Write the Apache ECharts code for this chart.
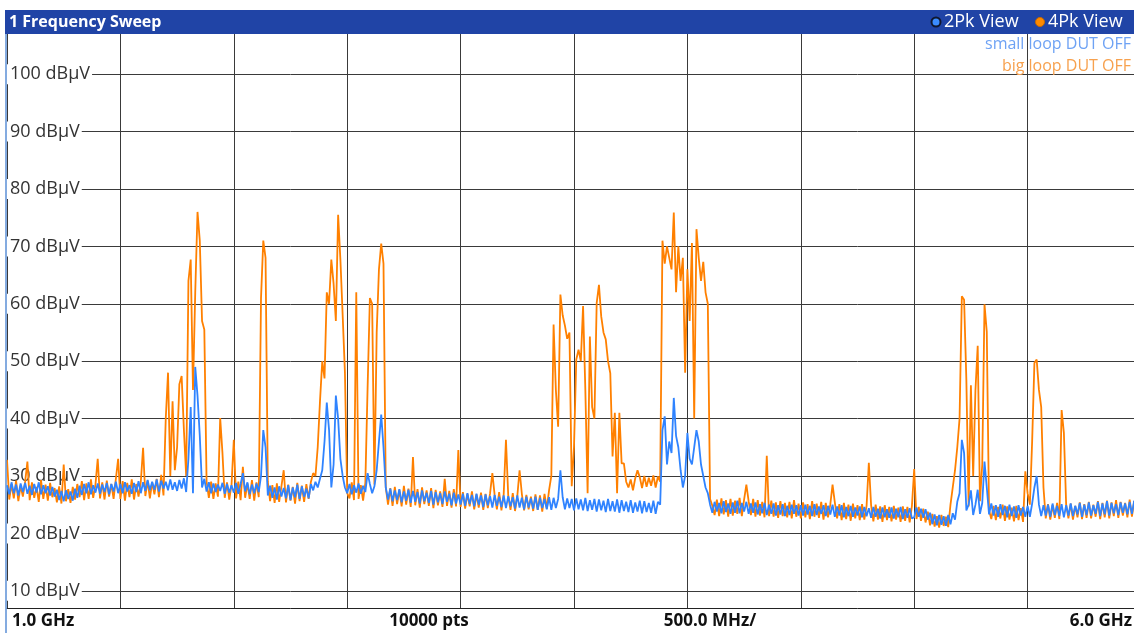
<!DOCTYPE html>
<html><head><meta charset="utf-8">
<script src="https://cdn.jsdelivr.net/npm/echarts@6/dist/echarts.min.js"></script>
<style>html,body{margin:0;padding:0;overflow:hidden;background:#fff;width:1134px;height:633px}#c{width:1142px;height:633px}</style>
</head><body><div id="c"></div><script>
// Sweep: 1.0 GHz .. 6.0 GHz, values read every 10 MHz (dBµV)
const sweepStartMHz = 1000, sweepStepMHz = 10, sweepStopMHz = 6000;
const yTicks = [10, 20, 30, 40, 50, 60, 70, 80, 90, 100];
const bottomLabels = ['1.0 GHz', '10000 pts', '500.0 MHz/', '6.0 GHz'];

// small loop DUT OFF (blue), 500 MHz per array
const blue1000 = [28.4,26.8,28.9,27.0,28.5,26.6,28.7,27.2,28.8,26.9, 28.3,26.7,28.6,27.1,28.9,26.8,28.4,27.0,28.2,26.6, 28.1,26.4,27.6,25.8,27.4,25.6,27.5,26.0,27.3,25.7, 27.8,26.2,28.3,26.7,28.6,27.0,28.9,26.8,28.4,27.1, 28.7,26.9,28.5,27.2,28.8,26.8,28.6,27.3,29.0,27.0];
const blue1500 = [28.6,27.0,28.9,27.3,28.4,26.9,28.8,27.2,29.1,27.0, 28.9,27.4,29.3,27.5,29.0,27.6,29.4,27.3,29.2,27.8, 29.0,27.5,29.4,27.6,28.9,27.4,29.3,27.8,29.6,27.2, 33.0,42.0,27.0,49.0,44.0,37.0,28.0,29.5,27.3,28.9, 27.0,28.7,27.2,28.5,27.4,28.8,26.9,28.6,27.1,28.4];
const blue2000 = [27.1,28.8,26.9,28.6,30.5,27.3,28.9,26.8,28.5,27.0, 28.7,27.2,30.0,38.0,35.0,26.6,28.3,26.2,28.0,25.9, 28.2,26.4,27.9,26.1,28.4,25.8,28.0,26.3,28.5,26.0, 28.2,26.4,27.8,26.1,28.6,27.5,29.0,28.0,29.5,31.0, 36.0,42.8,38.0,28.0,32.0,44.0,40.0,33.0,30.0,28.0];
const blue2500 = [27.0,28.6,26.8,28.4,27.1,28.7,26.9,28.3,27.2,30.5, 28.6,27.0,28.2,31.0,36.0,40.7,35.0,28.0,25.9,27.8, 25.6,27.5,25.8,27.7,25.4,27.3,25.7,27.6,25.3,27.4, 25.5,27.2,25.2,27.5,25.6,27.1,25.3,27.4,25.0,27.2, 25.4,27.0,25.1,27.3,25.5,26.9,24.9,27.1,25.2,26.8];
const blue3000 = [25.0,26.9,24.8,27.0,25.1,26.7,24.7,26.9,25.0,26.6, 24.6,26.8,24.9,26.5,24.5,26.7,24.8,26.4,24.6,26.6, 24.4,26.5,24.7,26.3,24.3,26.6,24.5,26.2,24.2,26.4, 24.5,26.1,24.3,26.4,24.1,26.2,24.4,26.0,24.2,26.3, 24.1,26.2,24.4,26.0,31.0,26.3,24.2,26.1,24.4,26.0];
const blue3500 = [24.0,26.1,24.2,25.9,24.0,26.2,23.9,25.8,24.1,26.0, 23.8,25.9,24.0,25.7,23.7,26.0,23.9,25.6,23.8,25.9, 23.6,25.8,23.9,25.5,23.7,25.8,23.6,25.4,23.8,25.7, 23.5,25.6,23.7,25.3,23.6,25.7,23.4,25.5,25.0,38.0, 40.4,32.0,36.0,34.0,43.6,37.0,35.0,31.0,28.0,30.0];
const blue4000 = [37.5,33.0,32.0,35.0,38.0,36.0,32.0,30.0,28.0,27.0, 25.0,23.6,25.5,23.8,25.3,23.5,25.6,23.7,25.2,23.4, 25.4,23.6,25.7,23.5,25.3,23.8,25.5,23.4,25.2,23.6, 25.4,23.3,25.1,23.5,25.3,23.2,25.0,23.4,25.2,23.1, 24.9,23.3,25.1,23.0,24.8,23.2,25.0,23.4,24.9,23.1];
const blue4500 = [24.9,23.1,25.0,23.3,24.8,23.0,25.1,23.2,24.7,23.4, 24.9,23.0,24.8,23.3,25.0,22.9,24.7,23.1,24.9,22.8, 24.6,23.0,24.8,22.9,24.5,23.1,24.7,22.8,24.6,23.0, 24.4,22.7,24.6,22.9,24.3,22.6,24.5,22.8,24.2,22.7, 24.5,22.6,24.3,22.8,24.6,22.5,24.2,22.7,24.4,22.6];
const blue5000 = [22.8,24.5,22.9,24.3,22.7,24.2,22.4,23.6,21.6,23.3, 21.4,23.2,21.5,23.0,21.3,23.2,21.6,23.5,22.4,25.5, 27.0,36.3,34.0,24.0,25.0,27.5,23.2,25.0,27.6,23.4, 25.3,32.5,28.0,23.3,25.2,23.1,24.9,22.9,25.1,23.2, 24.8,22.8,25.0,23.0,24.7,22.7,24.9,23.1,24.6,22.9];
const blue5500 = [24.8,22.9,25.2,28.0,30.0,25.0,23.0,24.9,23.1,25.0, 22.9,25.2,23.2,24.8,23.0,25.1,22.8,24.9,23.1,25.2, 23.0,24.8,23.3,25.3,22.9,25.0,23.2,25.4,23.1,24.9, 23.4,25.5,23.0,25.2,23.3,25.6,23.1,25.3,23.5,25.1, 23.2,25.4,23.6,25.2,23.3,25.5,23.4,25.7,23.2,25.4,23.5];

// big loop DUT OFF (orange)
const orange1000 = [32.8,25.9,28.6,26.1,29.2,25.6,28.3,26.4,29.0,32.5, 25.8,28.9,26.2,28.1,25.5,29.3,26.0,28.5,25.7,28.8, 26.3,27.9,25.4,28.2,25.2,32.0,25.6,27.7,25.3,28.1, 25.9,28.6,26.3,29.1,25.8,28.7,26.0,29.4,26.2,28.5, 33.0,26.1,28.9,25.9,29.2,26.4,28.6,26.0,29.5,33.0];
const orange1500 = [26.0,29.1,25.7,28.8,26.3,29.4,25.9,28.6,26.4,29.0, 34.9,26.5,29.2,26.1,28.9,26.8,29.5,26.3,30.2,26.6, 40.0,48.0,30.0,43.0,31.0,35.0,46.0,47.4,38.0,30.0, 64.0,67.7,45.0,62.0,76.0,71.0,57.0,55.5,29.0,26.2, 29.0,26.0,28.7,26.4,40.1,34.0,26.2,28.9,25.9,28.5];
const orange2000 = [36.3,26.1,29.0,25.8,31.6,26.2,28.7,26.0,29.3,25.7, 28.9,26.3,61.0,71.0,68.0,29.0,25.6,28.4,25.3,28.7, 25.5,28.2,31.0,25.4,28.5,25.7,28.1,25.2,28.8,25.6, 28.3,25.5,28.6,26.0,29.0,30.5,30.0,35.0,43.0,50.0, 47.0,62.0,60.0,67.7,63.5,57.0,75.5,67.7,58.0,48.0];
const orange2500 = [27.0,26.1,28.9,25.8,62.0,26.0,28.4,25.7,28.8,45.5, 61.0,60.0,28.5,55.0,66.0,70.5,67.0,28.0,25.0,27.9, 24.8,28.1,25.1,27.6,24.7,28.3,25.0,27.8,24.6,33.3, 24.9,27.7,24.5,28.0,25.1,27.5,24.8,27.9,24.4,27.6, 24.9,27.3,24.6,29.5,24.8,27.4,24.5,27.7,24.7,34.5];
const orange3000 = [24.6,27.2,24.3,26.9,24.7,27.3,24.2,26.8,24.5,27.1, 24.1,26.9,24.4,27.0,30.5,26.7,24.2,27.2,24.0,26.8, 36.3,26.6,24.1,27.0,23.9,26.5,31.0,26.9,24.0,26.7, 24.2,26.4,23.9,26.8,24.1,26.6,23.8,26.9,24.3,27.5, 30.0,56.4,45.0,38.6,61.6,58.0,56.2,53.9,55.0,28.2];
const orange3500 = [35.1,50.3,52.0,50.0,59.6,45.0,27.0,54.3,42.0,40.0, 60.1,63.3,57.8,55.0,53.8,50.0,47.9,33.4,41.0,27.0, 41.0,32.2,32.2,29.0,28.0,29.4,27.5,29.6,31.0,29.8, 27.9,30.0,28.1,29.7,28.3,30.1,28.0,29.9,29.0,71.0, 67.0,70.0,68.0,66.0,75.9,62.0,70.0,64.0,68.0,48.0];
const orange4000 = [66.0,57.0,70.6,40.0,73.0,68.0,64.0,67.3,62.0,60.0, 26.0,24.8,23.2,25.9,23.0,26.1,23.3,25.8,22.9,26.0, 23.1,25.7,23.4,26.2,23.0,25.9,28.5,25.6,23.2,26.0, 22.9,25.8,23.1,25.5,22.8,33.5,23.0,25.7,22.9,25.4, 22.7,25.6,23.0,25.3,22.8,25.5,22.6,25.8,22.9,25.2];
const orange4500 = [22.6,25.4,22.8,25.1,22.5,25.6,22.9,25.2,22.7,25.5, 22.4,25.3,22.8,25.0,28.5,25.4,22.6,25.1,22.3,25.3, 22.5,25.0,22.2,25.2,22.6,24.9,22.3,25.1,22.4,24.8, 32.3,24.9,22.1,25.0,22.4,24.7,22.0,24.9,22.3,24.6, 22.1,24.8,22.4,24.5,22.0,24.7,22.2,24.6,21.9,24.8];
const orange5000 = [31.2,22.5,24.6,22.2,24.3,21.9,23.8,21.4,23.4,21.2, 23.0,21.0,23.2,21.3,22.9,21.1,25.0,28.0,31.0,35.0, 40.0,61.3,60.7,46.7,24.7,45.8,30.0,44.9,52.7,25.6, 32.0,59.9,55.1,24.0,22.5,24.8,22.3,24.6,22.6,25.0, 22.2,24.7,22.4,24.5,22.1,24.8,22.3,24.4,22.0,30.8];
const orange5500 = [27.0,25.0,36.0,49.7,50.3,45.0,42.0,28.0,22.6,25.1, 22.4,24.9,22.7,25.3,22.5,41.5,37.5,25.0,22.6,25.2, 22.4,24.8,22.8,25.4,22.5,25.1,22.7,25.5,22.6,25.0, 22.9,25.6,22.5,25.3,22.8,25.7,22.6,25.4,23.0,25.8, 22.7,25.5,23.1,25.3,22.8,25.9,22.9,25.6,23.0,25.4,23.2];

const blueValues = [].concat(blue1000, blue1500, blue2000, blue2500, blue3000, blue3500, blue4000, blue4500, blue5000, blue5500);
const orangeValues = [].concat(orange1000, orange1500, orange2000, orange2500, orange3000, orange3500, orange4000, orange4500, orange5000, orange5500);
const toPairs = vals => vals.map((v, i) => [sweepStartMHz + i * sweepStepMHz, v]);

const FONT = '"Open Sans", "Noto Sans", sans-serif';
const chart = echarts.init(document.getElementById('c'), null, { renderer: 'canvas' });
chart.setOption({
  animation: false,
  backgroundColor: '#ffffff',
  grid: { left: 7, top: 34, width: 1134, height: 574, containLabel: false },
  xAxis: {
    type: 'value', min: sweepStartMHz, max: sweepStopMHz, interval: 500,
    axisLine: { show: true, onZero: false, lineStyle: { color: '#222', width: 1 } },
    axisTick: { show: false }, axisLabel: { show: false },
    splitLine: { show: true, lineStyle: { color: '#3a3a3a', width: 1 } }
  },
  yAxis: [
    {
      type: 'value', min: 7, max: 107,
      axisLine: { show: false },
      axisTick: { show: false, customValues: yTicks },
      axisLabel: { show: false, customValues: yTicks },
      splitLine: { show: true, lineStyle: { color: '#3a3a3a', width: 1 } }
    },
    {
      type: 'value', min: 7, max: 107, position: 'left', z: 1,
      axisLine: { show: false }, axisTick: { show: false, customValues: yTicks }, splitLine: { show: false },
      axisLabel: {
        inside: true, margin: 0, customValues: yTicks,
        formatter: v => v + ' dBµV',
        color: '#333', fontSize: 18, fontFamily: FONT,
        backgroundColor: '#fff', padding: [1, 2, 1, 3]
      }
    }
  ],
  series: [
    { type: 'line', name: 'big loop DUT OFF', data: toPairs(orangeValues), showSymbol: false, symbol: 'none', sampling: 'none', silent: true, z: 3,
      lineStyle: { color: '#ff8000', width: 1.8 } },
    { type: 'line', name: 'small loop DUT OFF', data: toPairs(blueValues), showSymbol: false, symbol: 'none', sampling: 'none', silent: true, z: 4,
      lineStyle: { color: '#2f83ff', width: 1.8 } }
  ],
  graphic: [
    { type: 'rect', shape: { x: 5, y: 10, width: 1140, height: 24 }, style: { fill: '#2044a6' }, z: 10 },
    { type: 'line', shape: { x1: 6, y1: 34, x2: 6, y2: 633 }, style: { stroke: '#5b8fd6', lineWidth: 1.5 }, z: 10 },
    { type: 'text', z: 11, style: { text: '1 Frequency Sweep', x: 9, y: 22, fill: '#fff', font: 'bold 16px ' + FONT, textAlign: 'left', textVerticalAlign: 'middle', align: 'left', verticalAlign: 'middle' } },
    { type: 'circle', z: 11, shape: { cx: 936, cy: 22, r: 4.5 }, style: { fill: '#3b8cff', stroke: '#101830', lineWidth: 2 } },
    { type: 'text', z: 11, style: { text: '2Pk View', x: 944, y: 22, fill: '#fff', font: '18px ' + FONT, textAlign: 'left', textVerticalAlign: 'middle', align: 'left', verticalAlign: 'middle' } },
    { type: 'circle', z: 11, shape: { cx: 1040, cy: 22, r: 4.5 }, style: { fill: '#ff8a00', stroke: '#c86a00', lineWidth: 1 } },
    { type: 'text', z: 11, style: { text: '4Pk View', x: 1048, y: 22, fill: '#fff', font: '18px ' + FONT, textAlign: 'left', textVerticalAlign: 'middle', align: 'left', verticalAlign: 'middle' } },
    { type: 'text', z: 11, style: { text: 'small loop DUT OFF', x: 1131, y: 44, fill: '#6ea2f4', font: '16px ' + FONT, textAlign: 'right', textVerticalAlign: 'middle', align: 'right', verticalAlign: 'middle' } },
    { type: 'text', z: 11, style: { text: 'big loop DUT OFF', x: 1131, y: 66, fill: '#f7a14e', font: '16px ' + FONT, textAlign: 'right', textVerticalAlign: 'middle', align: 'right', verticalAlign: 'middle' } },
    { type: 'text', z: 11, style: { text: bottomLabels[0], x: 12, y: 621, fill: '#111', font: 'bold 17px ' + FONT, textAlign: 'left', textVerticalAlign: 'middle', align: 'left', verticalAlign: 'middle' } },
    { type: 'text', z: 11, style: { text: bottomLabels[1], x: 429, y: 621, fill: '#111', font: 'bold 17px ' + FONT, textAlign: 'center', textVerticalAlign: 'middle', align: 'center', verticalAlign: 'middle' } },
    { type: 'text', z: 11, style: { text: bottomLabels[2], x: 710, y: 621, fill: '#111', font: 'bold 17px ' + FONT, textAlign: 'center', textVerticalAlign: 'middle', align: 'center', verticalAlign: 'middle' } },
    { type: 'text', z: 11, style: { text: bottomLabels[3], x: 1132, y: 621, fill: '#111', font: 'bold 17px ' + FONT, textAlign: 'right', textVerticalAlign: 'middle', align: 'right', verticalAlign: 'middle' } }
  ]
});
</script></body></html>
